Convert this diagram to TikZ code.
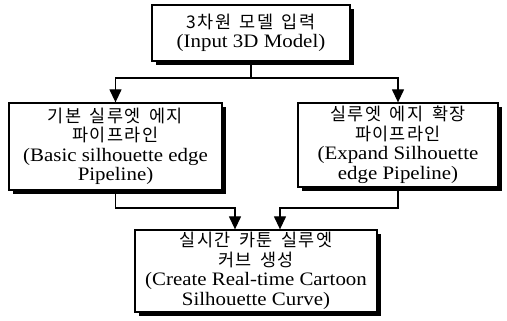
\documentclass[tikz,border=0pt]{standalone}
\usepackage{fontspec}
\setmainfont{Liberation Serif}[FakeStretch=1.1]
\newfontfamily\krfont{Noto Sans CJK KR}[Scale=0.92,LetterSpace=8,WordSpace=1.6]
\usepackage{xcolor}
\usepackage{tikz}
\usetikzlibrary{calc,arrows.meta,shadows}
\definecolor{boxLine}{HTML}{000000}
\definecolor{flowBlack}{HTML}{000000}
\tikzset{
  stagebox/.style={rectangle, draw=boxLine, fill=white, line width=1.3pt, align=center, font=\fontsize{19}{19.5}\selectfont, inner sep=2pt, drop shadow={shadow xshift=4pt, shadow yshift=-4pt, fill=black, opacity=1}},
  flowarrow/.style={-{Triangle[length=13pt,width=12pt]}, line width=1.3pt, draw=flowBlack},
}

\begin{document}
\begin{tikzpicture}[x=1pt,y=1pt]
  \useasboundingbox (0,0) rectangle (507,321);

  \node[stagebox, minimum width=198pt, minimum height=56pt] (input) at (251,288) {{\krfont 3차원 모델 입력}\\(Input 3D Model)};

  \node[stagebox, minimum width=213pt, minimum height=87pt] (basic)  at (115.5,174.5) {{\krfont 기본 실루엣 에지}\\{\krfont 파이프라인}\\(Basic silhouette edge\\Pipeline)};
  \node[stagebox, minimum width=200pt, minimum height=84pt] (expand) at (398,176) {{\krfont 실루엣 에지 확장}\\{\krfont 파이프라인}\\(Expand Silhouette\\edge Pipeline)};

  \node[stagebox, minimum width=242pt, minimum height=82pt] (curve) at (256,50) {{\krfont 실시간 카툰 실루엣}\\{\krfont 커브 생성}\\(Create Real-time Cartoon\\Silhouette Curve)};

  \coordinate (split) at (251,243);
  \coordinate (mergeL) at (235,113);
  \coordinate (mergeR) at (280,113);

  \foreach \c in {basic,expand} { \draw[flowarrow] (input.south) -- (split) -| (\c.north); }
  \draw[flowarrow] (basic.south) |- (mergeL) -- (mergeL |- curve.north);
  \draw[flowarrow] (expand.south) |- (mergeR) -- (mergeR |- curve.north);
\end{tikzpicture}
\end{document}
